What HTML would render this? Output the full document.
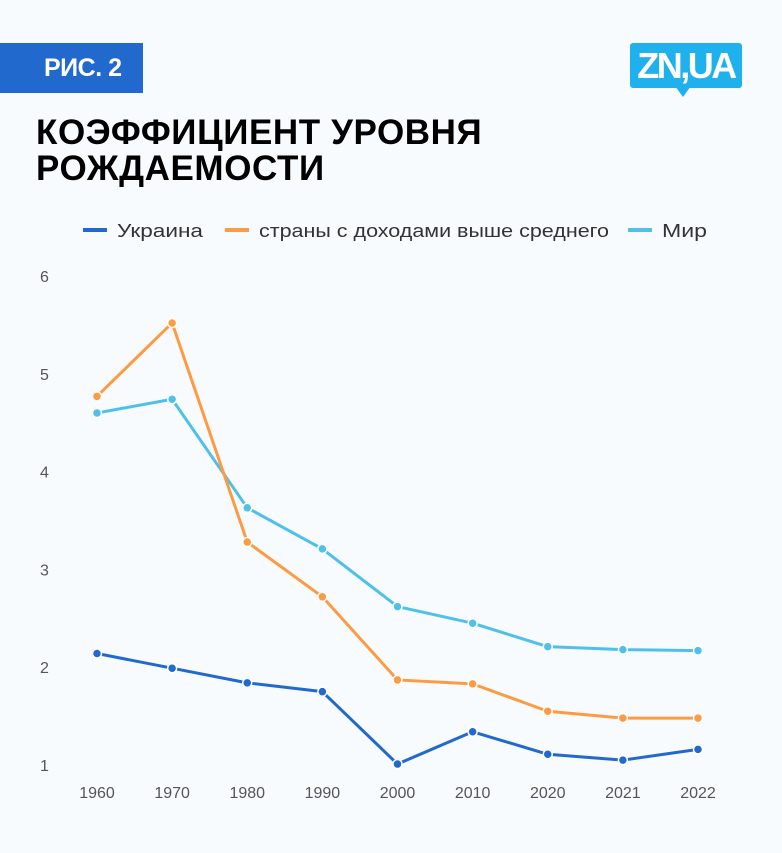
<!DOCTYPE html>
<html><head><meta charset="utf-8"><style>
body{margin:0;background:#f8fbfe;font-family:"Liberation Sans",sans-serif;}
#root{position:relative;width:782px;height:853px;overflow:hidden;background:#f8fbfe;}
</style></head><body>
<div id="root">
<div style="position:absolute;left:0;top:43px;width:143px;height:50px;background:#2169cc;color:#fff;font-weight:bold;font-size:25px;line-height:50px;box-sizing:border-box;padding-left:44px;letter-spacing:-0.5px">РИС. 2</div>
<div style="position:absolute;left:630px;top:43px;width:112px;height:45px;background:#1fb0ee;border-radius:3px;color:#fff;font-weight:bold;font-size:36px;line-height:46px;text-align:center;letter-spacing:-2.5px">ZN,UA</div>
<div style="position:absolute;left:675px;top:86px;width:0;height:0;border-left:8px solid transparent;border-right:8px solid transparent;border-top:11px solid #1fb0ee"></div>
<div style="position:absolute;left:36px;top:115px;font-weight:bold;font-size:35px;line-height:36px;color:#000;letter-spacing:0.6px">КОЭФФИЦИЕНТ УРОВНЯ<br>РОЖДАЕМОСТИ</div>
<svg id="chart" width="782" height="853" style="position:absolute;left:0;top:0"></svg>
</div>
<script>
const years=["1960","1970","1980","1990","2000","2010","2020","2021","2022"];
const ukraine=[2.15,2.0,1.85,1.76,1.02,1.35,1.12,1.06,1.17];
const upperMiddle=[4.78,5.53,3.29,2.73,1.88,1.84,1.56,1.49,1.49];
const world=[4.61,4.75,3.64,3.22,2.63,2.46,2.22,2.19,2.18];
const yTicks=[1,2,3,4,5,6];
const seriesNames=["Украина","страны с доходами выше среднего","Мир"];
const NS="http://www.w3.org/2000/svg";
const svg=document.getElementById('chart');
function x(i){return 97+i*(698-97)/(years.length-1);}
function y(v){return 766-(v-1)*(766-277)/5;}
function mk(t,a,p){const e=document.createElementNS(NS,t);for(const k in a)e.setAttribute(k,a[k]);(p||svg).appendChild(e);return e;}
yTicks.forEach(t=>{const e=mk('text',{x:40,y:y(t)+5,'font-size':16,fill:'#555','text-anchor':'start'});e.textContent=t;

});
years.forEach((yr,i)=>{const e=mk('text',{x:x(i),y:798,'font-size':16,fill:'#555','text-anchor':'middle'});e.textContent=yr;

});
const colors=['#2169cc','#fd9b43','#4fc1e9'];
const data=[ukraine,upperMiddle,world];
const lx=[83,225,628];
const lw=[86,350,45];
seriesNames.forEach((n,s)=>{const l=mk('rect',{x:lx[s],y:228,width:24,height:4,fill:colors[s]});


const t=mk('text',{x:lx[s]+34,y:237,'font-size':18,fill:'#333',textLength:lw[s],lengthAdjust:'spacingAndGlyphs'});t.textContent=n;

});
[2,1,0].forEach(s=>{const d=data[s];
const p=mk('polyline',{points:d.map((v,i)=>x(i)+','+y(v)).join(' '),fill:'none',stroke:colors[s],'stroke-width':3,'stroke-linejoin':'round'});


d.forEach((v,i)=>{const c=mk('circle',{cx:x(i),cy:y(v),r:4.5,fill:colors[s],stroke:'#fff','stroke-width':1.5});

});});
</script>
</body></html>
